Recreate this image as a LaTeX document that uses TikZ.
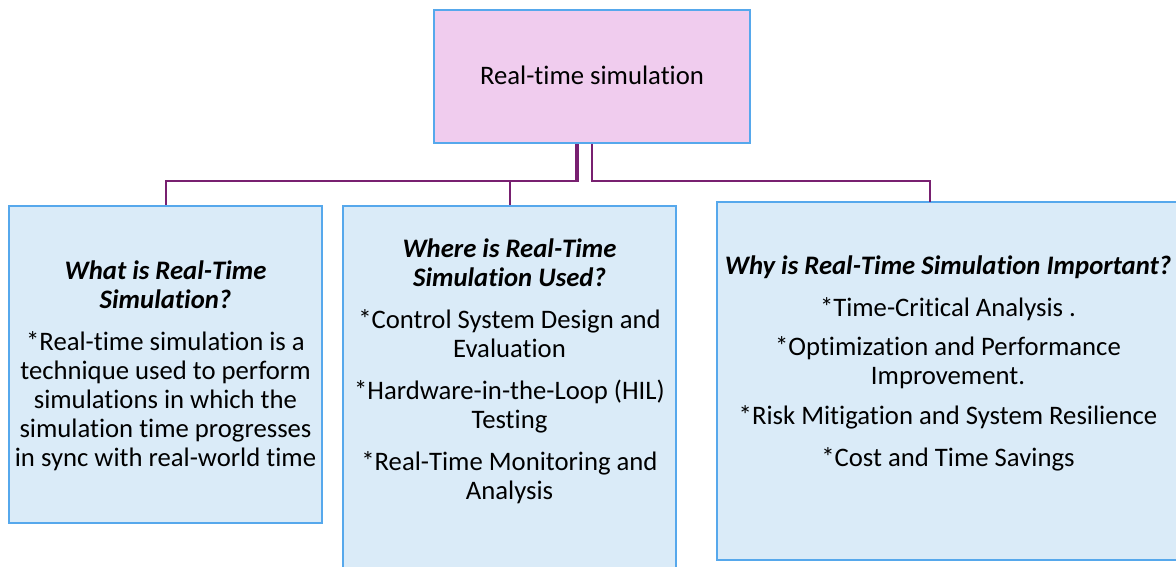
\documentclass[tikz,border=0pt]{standalone}
\usepackage{fontspec}
\setmainfont{Carlito}[Ligatures=NoCommon]
\definecolor{topfill}{RGB}{240,204,238}
\definecolor{boxfill}{RGB}{218,235,248}
\definecolor{edgeblue}{RGB}{86,168,236}
\definecolor{linkpurple}{RGB}{120,32,112}
\tikzset{
  topbox/.style={draw=edgeblue, line width=2pt, fill=topfill, rectangle, inner sep=0pt},
  infobox/.style={draw=edgeblue, line width=2pt, fill=boxfill, rectangle, inner sep=0pt},
  boxtext/.style={align=center, inner sep=0pt, font=\fontsize{26.7}{29}\selectfont},
  link/.style={draw=linkpurple, line width=2pt},
}
\newcommand{\ttl}[1]{{\bfseries\itshape #1}}
\begin{document}
\begin{tikzpicture}[x=1pt,y=1pt]
  \useasboundingbox (0,0) rectangle (1176,-567);
  \clip (0,0) rectangle (1176,-567);

  % root box
  \node[topbox, minimum width=316pt, minimum height=133pt] (root) at (592,-76.5) {};
  \node[boxtext] (roottxt) at (592,-75) {Real-time simulation};

  % three topic boxes
  \node[infobox, minimum width=313pt, minimum height=317pt] (what) at (165.5,-364.5) {};
  \node[infobox, minimum width=333pt, minimum height=380pt] (where) at (509.5,-396) {};
  \node[infobox, minimum width=520pt, minimum height=358pt] (why) at (977,-381) {};

  % texts
  \node[boxtext] (whattxt) at (165.5,-366) {\ttl{What is Real-Time}\\ \ttl{Simulation?}\\[13pt]
    *Real-time simulation is a\\ technique used to perform\\ simulations in which the\\
    simulation time progresses\\ in sync with real-world time};
  \node[boxtext] (wheretxt) at (509.5,-371) {\ttl{Where is Real-Time}\\ \ttl{Simulation Used?}\\[13pt]
    *Control System Design and\\ Evaluation\\[13pt]
    *Hardware-in-the-Loop (HIL)\\ Testing\\[13pt]
    *Real-Time Monitoring and\\ Analysis};
  \node[boxtext] (whytxt) at (948,-363) {\ttl{Why is Real-Time Simulation Important?}\\[13pt]
    *Time-Critical Analysis .\\[10pt]
    *Optimization and Performance\\ Improvement.\\[11pt]
    *Risk Mitigation and System Resilience\\[13pt]
    *Cost and Time Savings};

  % connectors from the root to each topic
  \coordinate (whydrop) at (930,-202);
  \draw[link] ([xshift=-16pt]root.south) -- ++(0,-37) -| (what.north);
  \draw[link] ([xshift=-14pt]root.south) -- ++(0,-37) -| (where.north);
  \draw[link] (root.south) -- ++(0,-37) -| (whydrop);
\end{tikzpicture}
\end{document}
